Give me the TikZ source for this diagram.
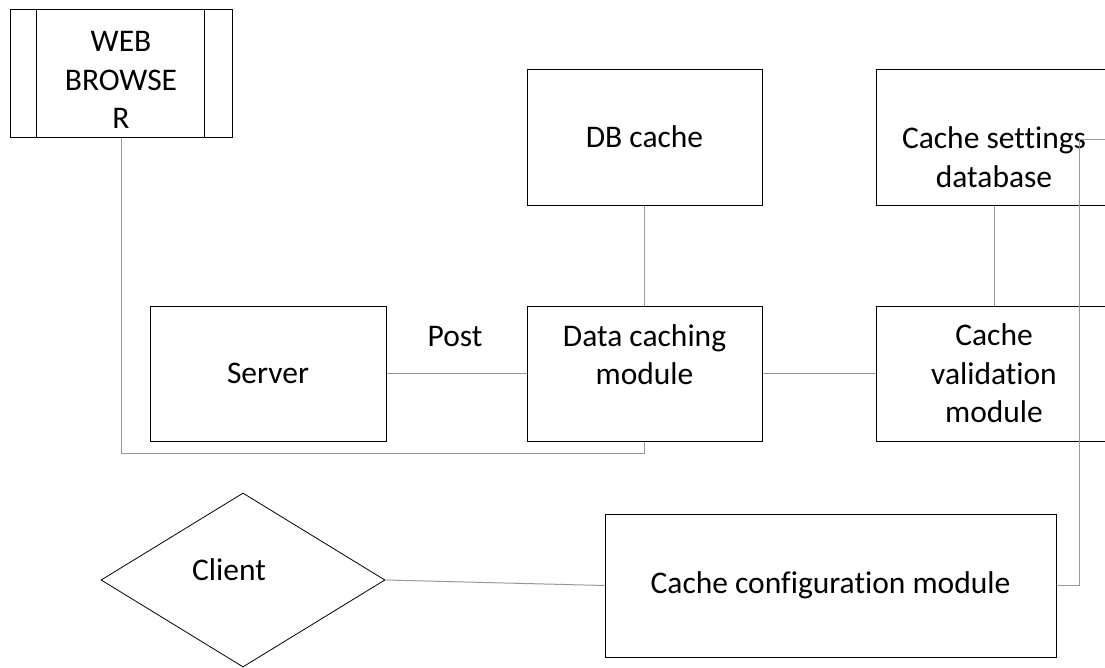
\documentclass[tikz,border=0pt]{standalone}
\usepackage{fontspec}
\setmainfont{Carlito}[Ligatures=NoCommon]
\usetikzlibrary{shapes.geometric}

\begin{document}
\begin{tikzpicture}[x = 1pt, y = -1pt,
		every node/.style = {font=\fontsize{31.5}{38.4}\selectfont, align=center},
		box/.style = {draw, line width=1pt, inner sep=0pt},
		conn/.style = {draw=black!40, line width=1pt}]
		\useasboundingbox (0,0) rectangle (1105,667);
		\clip (0,0) rectangle (1105,667);
		% boxes
		\node [box, minimum width=222, minimum height=128] (browser) at (121,73) {};
		\node (browsertxt) at (121,80) {WEB\\BROWSE\\R};
		\draw [line width=1pt] ([xshift=27]browser.north west) -- ([xshift=27]browser.south west);
		\draw [line width=1pt] ([xshift=-28]browser.north east) -- ([xshift=-28]browser.south east);
		\node [box, minimum width=235, minimum height=136] (dbcache) at (644.5,137) {DB cache};
		\node [box, minimum width=236, minimum height=136] (settings) at (994,137) {};
		\node (settingstxt) at (994,157) {Cache settings\\database};
		\node [box, minimum width=236, minimum height=135] (server) at (268,373.5) {Server};
		\node [box, minimum width=235, minimum height=135] (datacache) at (644.5,373.5) {Data caching\\module\\\mbox{}};
		\node [box, minimum width=236, minimum height=135] (validation) at (994,373.5) {Cache\\validation\\module};
		\node [box, minimum width=451, minimum height=143] (config) at (830.5,585.5) {Cache configuration module};
		\node [draw, line width=0.8pt, diamond, inner sep=0pt, minimum width=284, minimum height=174] (client) at (243,580) {};
		\node (clienttxt) at (229,570) {Client};
		\node (post) at (455,337) {Post};
		% connectors
		\coordinate (loopcorner) at (121,453);
		\coordinate (rimend) at (1112,139);
		\draw [conn] (server.east) -- (datacache.west);
		\draw [conn] (datacache.east) -- (validation.west);
		\draw [conn] (dbcache.south) -- (datacache.north);
		\draw [conn] (settings.south) -- (validation.north);
		\draw [conn] (client.east) -- (config.west);
		\draw [conn] (browser.south) -- (loopcorner) -| (datacache.south);
		\draw [conn] (config.east) -- ++(23,0) |- (rimend);
	\end{tikzpicture}
\end{document}
